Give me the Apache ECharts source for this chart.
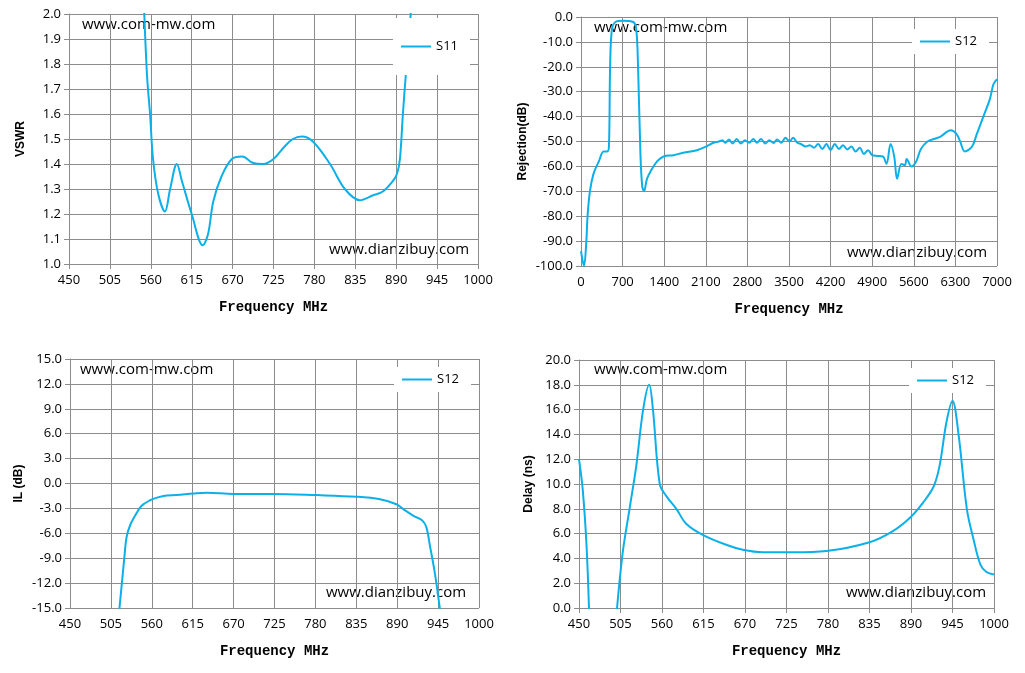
<!DOCTYPE html>
<html>
<head>
<meta charset="utf-8">
<script src="https://cdn.jsdelivr.net/npm/echarts@6/dist/echarts.min.js"></script>
<style>html,body{margin:0;padding:0;background:#fff}#box{width:1025px;height:673px}</style>
</head>
<body>
<div id="box"></div>
<script>
// S11 VSWR
var vswrData = [[551,2.02],[555,1.75],[559,1.6],[563,1.42],[570,1.28],[579,1.21],[586,1.3],[595,1.40],[602,1.33],[615,1.2],[630,1.075],[637,1.12],[644,1.25],[655,1.35],[669,1.42],[683,1.43],[697,1.405],[711,1.40],[725,1.42],[740,1.47],[751,1.5],[763,1.51],[778,1.49],[801,1.4],[821,1.3],[841,1.255],[859,1.275],[872,1.29],[885,1.33],[891,1.36],[895,1.42],[899,1.6],[903,1.76],[907,1.9],[910,2.02]];
// S12 rejection
var rejData = [[0,-94],[50,-100],[90,-90],[110,-80],[150,-70],[210,-63],[300,-58],[380,-54],[440,-54],[470,-52],[490,-20],[520,-5],[580,-2],[700,-1.5],[880,-2],[930,-5],[960,-20],[1000,-55],[1030,-68],[1060,-70],[1110,-65],[1170,-62],[1280,-58],[1390,-56],[1560,-55.5],[1720,-54.5],[1950,-53.5],[2110,-52],[2230,-50.5],[2320,-50],[2380,-49.5],[2430,-50.5],[2490,-49.2],[2550,-50.8],[2620,-49],[2690,-50.8],[2760,-49.5],[2830,-50.5],[2900,-49],[2960,-50.5],[3030,-49],[3100,-50.8],[3170,-49.5],[3240,-50.6],[3300,-49.2],[3370,-50.5],[3440,-48.5],[3510,-50],[3570,-48.5],[3640,-50.5],[3700,-51],[3780,-52],[3850,-51.5],[3920,-52.5],[3990,-51],[4060,-53],[4130,-51],[4200,-53.5],[4270,-51],[4340,-53],[4410,-51.5],[4480,-53.2],[4550,-52],[4620,-54],[4690,-52.5],[4760,-55],[4830,-53.5],[4900,-55.5],[4980,-55.8],[5080,-56],[5140,-59],[5210,-51],[5270,-56],[5320,-65],[5390,-59],[5450,-59.5],[5480,-57],[5560,-60],[5640,-58],[5720,-53],[5830,-50],[5940,-49],[6050,-48],[6220,-45.5],[6320,-47],[6380,-50],[6460,-54],[6580,-52],[6660,-47],[6770,-40],[6880,-33],[6940,-27],[7000,-25]];
// S12 insertion loss
var ilData = [[516,-15.5],[523,-9],[526,-6.5],[531,-5],[540,-3.5],[546,-2.7],[558,-2],[567,-1.7],[580,-1.45],[593,-1.4],[616,-1.2],[634,-1.1],[670,-1.25],[723,-1.25],[782,-1.4],[835,-1.6],[867,-1.9],[889,-2.5],[900,-3.2],[912,-3.9],[923,-4.4],[929,-5.2],[934,-7.5],[941,-11],[948,-15.5]];
// S12 group delay
var delayData = [[450,12],[455,9.5],[460,5],[463.5,-0.5],[464,null],[499,null],[500,-0.3],[508,4.5],[517,8],[526,11.5],[535,16],[543,18],[548,16],[557,10],[566,9],[579,8],[592,6.8],[614,5.9],[645,5.1],[667,4.7],[694,4.5],[734,4.5],[778,4.6],[835,5.3],[866,6.2],[889,7.3],[906,8.5],[920,9.8],[928,11.5],[937,15],[945,16.7],[953,14],[964,8],[973,5.5],[982,3.5],[990,2.9],[1000,2.7]];

var grids = [
  {left:69, top:14, width:409, height:250},
  {left:581, top:17, width:416, height:249},
  {left:70, top:359, width:409, height:249},
  {left:579, top:360, width:415, height:248}
];
var yAxes = [
  {name:'VSWR', min:1.0, max:2.0, interval:0.1, gap:42},
  {name:'Rejection(dB)', min:-100, max:0, interval:10, gap:52},
  {name:'IL (dB)', min:-15, max:15, interval:3, gap:45},
  {name:'Delay (ns)', min:0, max:20, interval:2, gap:44}
];
var xAxes = [
  {min:450, max:1000, interval:55},
  {min:0, max:7000, interval:700},
  {min:450, max:1000, interval:55},
  {min:450, max:1000, interval:55}
];
var names = ['S11','S12','S12 ','S12  '];
var datas = [vswrData, rejData, ilData, delayData];
var legendPad = [[22,12,22,8],[6,12,6,8],[6,12,6,8],[6,12,6,8]];
var legendTop = [20,12,8,8];
var lineColor = '#0cb0e8';
var gridLine = {show:true, lineStyle:{color:'#8c8c8c', width:1}};
var axisLine = {show:true, lineStyle:{color:'#8c8c8c'}};

var option = {
  animation:false,
  grid: grids.map(function(g){ return Object.assign({containLabel:false, show:false}, g); }),
  xAxis: xAxes.map(function(a, i){
    return {type:'value', gridIndex:i, min:a.min, max:a.max, interval:a.interval,
      splitLine:gridLine, axisLine:axisLine, axisTick:{show:true, length:5, lineStyle:{color:'#8c8c8c'}},
      axisLabel:{color:'#000', fontSize:13, fontFamily:'Open Sans', margin:10, formatter:function(v){ return String(v); }},
      name:'Frequency MHz', nameLocation:'middle', nameGap:36,
      nameTextStyle:{fontFamily:'Liberation Mono', fontWeight:'bold', fontSize:14, color:'#000'}};
  }),
  yAxis: yAxes.map(function(a, i){
    return {type:'value', gridIndex:i, min:a.min, max:a.max, interval:a.interval,
      splitLine:gridLine, axisLine:axisLine, axisTick:{show:true, length:5, lineStyle:{color:'#8c8c8c'}},
      axisLabel:{color:'#000', fontSize:13, fontFamily:'Open Sans', formatter:function(v){ return v.toFixed(1); }},
      name:a.name, nameLocation:'middle', nameGap:a.gap,
      nameTextStyle:{fontFamily:'Liberation Sans', fontWeight:'bold', fontSize:12, color:'#000'}};
  }),
  legend: grids.map(function(g, i){
    return {data:[names[i]], right:1025 - g.left - g.width + 8, top:g.top + legendTop[i] - legendPad[i][0] + 6,
      backgroundColor:'#fff', padding:legendPad[i], icon:'rect', itemWidth:30, itemHeight:2,
      selectedMode:false, textStyle:{fontSize:13, fontFamily:'Open Sans', color:'#000'},
      formatter:function(n){ return n.trim(); }};
  }),
  series: datas.map(function(d, i){
    return {name:names[i], type:'line', xAxisIndex:i, yAxisIndex:i, data:d, smooth:0.35,
      showSymbol:false, connectNulls:false, clip:true, color:lineColor,
      lineStyle:{color:lineColor, width:2}};
  }),
  graphic: [
    {type:'text', left:82, top:17, style:{text:'www.com-mw.com', fontSize:15, fontFamily:'Open Sans', fill:'#000'}},
    {type:'text', left:329, top:242, style:{text:'www.dianzibuy.com', fontSize:15, fontFamily:'Open Sans', fill:'#000'}},
    {type:'text', left:594, top:20, style:{text:'www.com-mw.com', fontSize:15, fontFamily:'Open Sans', fill:'#000'}},
    {type:'text', left:847, top:245, style:{text:'www.dianzibuy.com', fontSize:15, fontFamily:'Open Sans', fill:'#000'}},
    {type:'text', left:80, top:362, style:{text:'www.com-mw.com', fontSize:15, fontFamily:'Open Sans', fill:'#000'}},
    {type:'text', left:326, top:585, style:{text:'www.dianzibuy.com', fontSize:15, fontFamily:'Open Sans', fill:'#000'}},
    {type:'text', left:594, top:362, style:{text:'www.com-mw.com', fontSize:15, fontFamily:'Open Sans', fill:'#000'}},
    {type:'text', left:846, top:585, style:{text:'www.dianzibuy.com', fontSize:15, fontFamily:'Open Sans', fill:'#000'}}
  ]
};

var mycharts = echarts.init(document.getElementById('box'));
mycharts.setOption(option);
</script>
</body>
</html>
